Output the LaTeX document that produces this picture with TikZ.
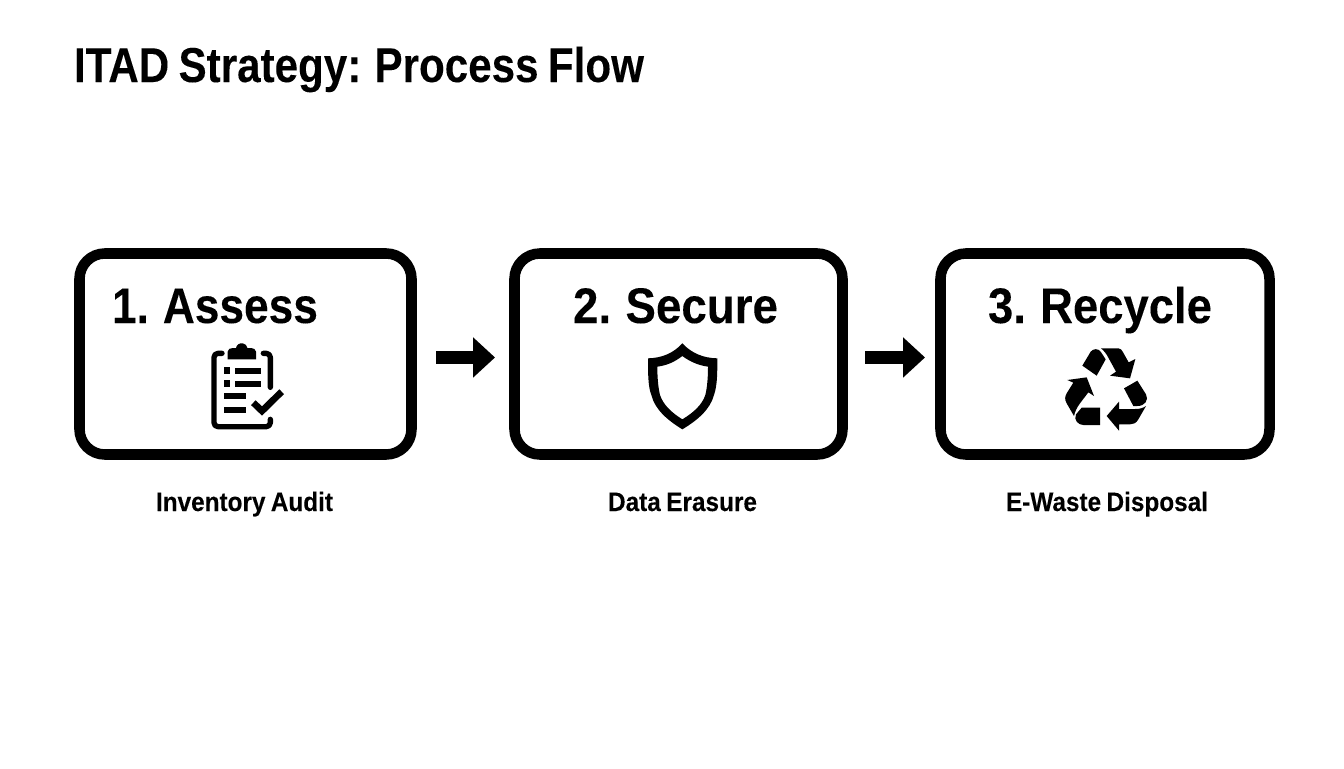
\documentclass[tikz,border=0pt]{standalone}
\usepackage{fontspec}
\usepackage{graphicx}
\setmainfont{Liberation Sans}[WordSpace=0.8,BoldFeatures={FakeBold=0.1}]
\usetikzlibrary{arrows.meta}
\newsavebox\fitbox
\newcommand\fitw[2]{\sbox\fitbox{#2}\pgfmathsetmacro\fitscale{#1*0.75/\the\wd\fitbox}\scalebox{\fitscale}[1]{\usebox\fitbox}}
\tikzset{
  stepbox/.style={draw=black,line width=7.9pt,rounded corners=19pt,outer sep=0pt,inner sep=0pt,minimum height=150.75pt},
  flowarrow/.style={line width=9.75pt,black,-{Triangle[length=16.5pt,width=29.25pt]}},
  txt/.style={anchor=base west,inner sep=0pt,outer sep=0pt,text=black},
  heading/.style={txt,font=\bfseries\fontsize{36.7}{38}\selectfont},
  boxtitle/.style={txt,font=\bfseries\fontsize{37.5}{38}\selectfont},
  sublabel/.style={txt,font=\bfseries\fontsize{20}{20}\selectfont},
  icon/.style={x=0.25pt,y=-0.25pt}
}
\begin{document}
\begin{tikzpicture}[x=0.75pt,y=-0.75pt]
\useasboundingbox (0,0) rectangle (1344,768);
\fill[white] (0,0) rectangle (1344,768);
\node[heading] (title) at (74,82) {\fitw{570}{ITAD Strategy: Process Flow}};
\node[stepbox,minimum width=249pt] (a) at (245.5,354) {};
\node[stepbox,minimum width=246pt] (b) at (678.5,354) {};
\node[stepbox,minimum width=246.75pt] (c) at (1105,354) {};
\draw[flowarrow,shorten <=18.4pt,shorten >=14.6pt] ([yshift=-2.6pt]a.east) -- ([yshift=-2.6pt]b.west);
\draw[flowarrow,shorten <=16.9pt,shorten >=11.6pt] ([yshift=-2.6pt]b.east) -- ([yshift=-2.6pt]c.west);
\node[boxtitle] (ta) at (112,323) {\fitw{206}{1. Assess}};
\node[boxtitle] (tb) at (573,323) {\fitw{205}{2. Secure}};
\node[boxtitle] (tc) at (988,323) {\fitw{224}{3. Recycle}};
\node[sublabel] (la) at (156,511) {\fitw{177}{Inventory Audit}};
\node[sublabel] (lb) at (608,511) {\fitw{149}{Data Erasure}};
\node[sublabel] (lc) at (1006,511) {\fitw{202}{E-Waste Disposal}};
% clipboard
\begin{scope}[shift={(190,330)},icon]
\draw[line width=4pt,line join=round,line cap=round,rounded corners=3pt] (96,70) -- (72,70) -- (72,290) -- (241,290) -- (241,268);
\draw[line width=4pt,line join=round,line cap=round,rounded corners=3pt] (220,70) -- (241,70) -- (241,172);
\fill (113,88) -- (113,65) to[out=90,in=180] (128,54) -- (138,54) arc[start angle=190,end angle=350,radius=17.5] -- (183,54) to[out=0,in=90] (198,65) -- (198,88) -- cycle;
\fill (101,112) rectangle (121,132);
\fill (101,151) rectangle (121,170);
\fill (135,114) rectangle (213,132);
\fill (135,152) rectangle (213,170);
\fill (101,190) rectangle (169,208);
\fill (101,230) rectangle (169,248);
\draw[line width=5pt] (190,218) -- (216,243) -- (275,185);
\end{scope}
% shield
\begin{scope}[shift={(630,330)},icon]
\fill[even odd rule] (157,40) .. controls (130,70) and (95,84) .. (54,85) .. controls (54,130) and (54,170) .. (64,195) .. controls (75,240) and (115,272) .. (157,298) .. controls (200,272) and (240,240) .. (252,195) .. controls (262,165) and (262,130) .. (262,85) .. controls (220,84) and (185,70) .. (157,40) -- cycle
(157,78) .. controls (135,95) and (112,106) .. (82,110) .. controls (82,140) and (84,170) .. (90,195) .. controls (100,225) and (125,248) .. (157,268) .. controls (190,248) and (216,225) .. (226,195) .. controls (232,170) and (234,140) .. (234,110) .. controls (205,106) and (180,95) .. (157,78) -- cycle;
\end{scope}
% recycle
\begin{scope}[shift={(1050,335)},icon]
\fill (97,92) -- (122,50) .. controls (130,40) and (145,40) .. (152,50) -- (167,73) -- (140,122) -- cycle;
\fill (153,40) -- (205,40) .. controls (212,40) and (215,45) .. (218,50) -- (236,82) -- (256,72) -- (240,130) -- (180,122) -- (198,110) -- (175,68) .. controls (170,58) and (163,48) .. (153,40) -- cycle;
\fill (222,160) -- (262,137) -- (288,178) .. controls (297,195) and (285,213) .. (262,213) -- (250,213) -- cycle;
\fill (288,213) -- (265,253) .. controls (258,265) and (250,268) .. (240,268) -- (207,268) -- (207,287) -- (170,243) -- (207,200) -- (207,222) -- (255,222) .. controls (268,222) and (278,220) .. (288,213) -- cycle;
\fill (150,218) -- (150,270) -- (100,270) .. controls (85,270) and (70,255) .. (78,238) -- (95,218) -- cycle;
\fill (72,243) -- (50,205) .. controls (43,192) and (45,185) .. (50,175) -- (70,143) -- (52,135) -- (110,127) -- (132,183) -- (115,172) -- (90,205) .. controls (80,218) and (75,230) .. (72,243) -- cycle;
\end{scope}
\end{tikzpicture}
\end{document}
